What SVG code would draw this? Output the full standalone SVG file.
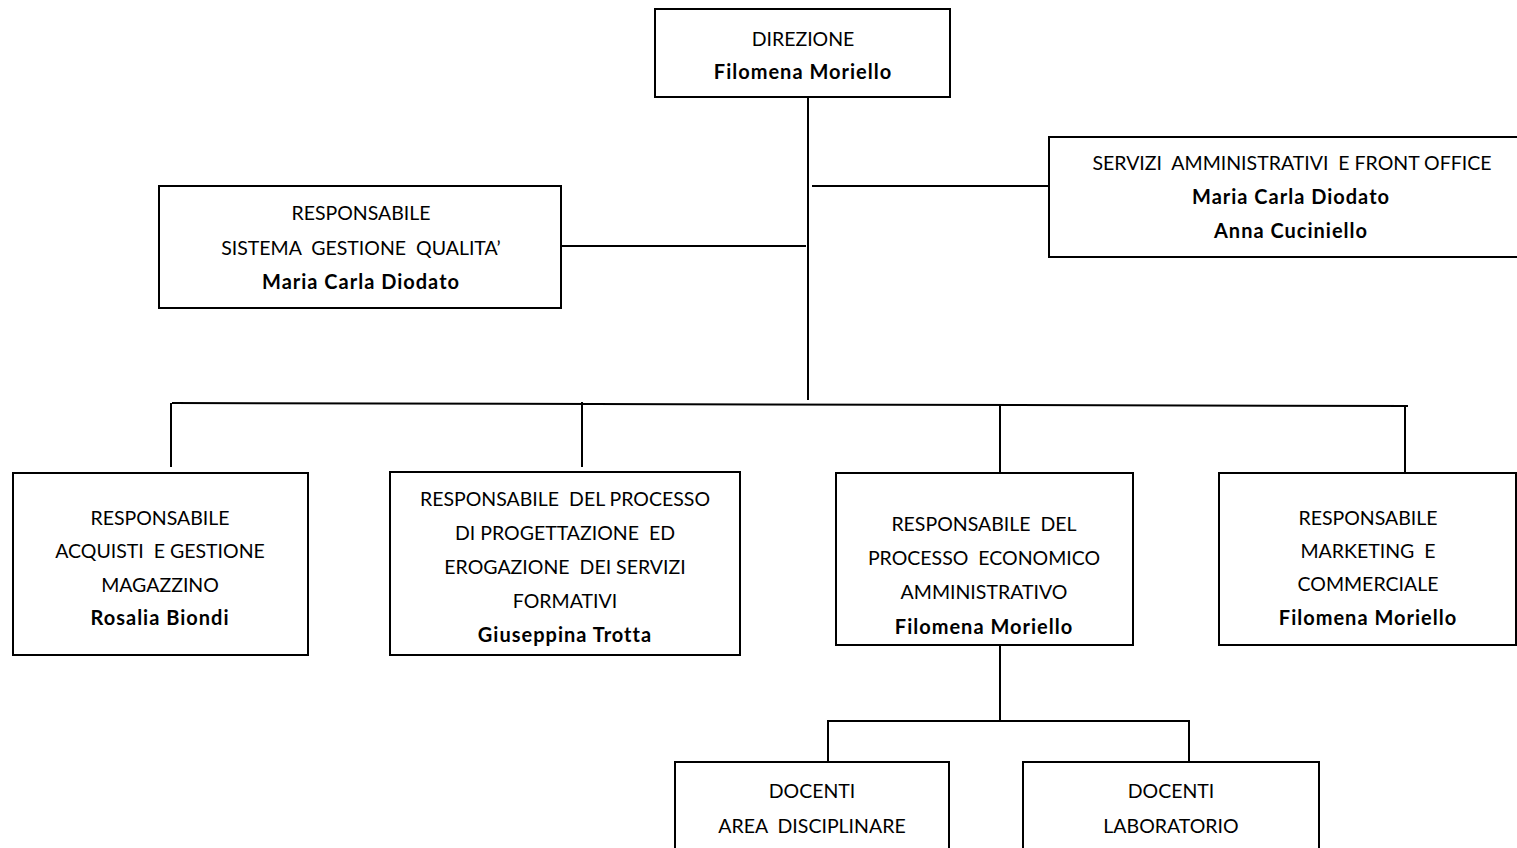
<svg xmlns="http://www.w3.org/2000/svg" width="1517" height="848" viewBox="0 0 1517 848">
<style>
.box{fill:#fff;stroke:#000;stroke-width:2}
.ln{stroke:#000;stroke-width:2;fill:none}
text{font-family:Lato,"Liberation Sans",Arial,sans-serif;font-size:19.5px;text-anchor:middle;fill:#000;white-space:pre}
.b{font-weight:bold;font-size:20px;letter-spacing:1px}
</style>
<rect width="1517" height="848" fill="#fff"/>
<g id="connectors">
<line class="ln" x1="808" y1="97" x2="808" y2="400"/>
<line class="ln" x1="812" y1="186" x2="1049" y2="186"/>
<line class="ln" x1="561" y1="246" x2="806" y2="246"/>
<line class="ln" x1="172" y1="403" x2="1408" y2="406"/>
<line class="ln" x1="171" y1="403" x2="171" y2="467"/>
<line class="ln" x1="582" y1="402" x2="582" y2="467"/>
<line class="ln" x1="1000" y1="405" x2="1000" y2="473"/>
<line class="ln" x1="1405" y1="406" x2="1405" y2="473"/>
<line class="ln" x1="1000" y1="645" x2="1000" y2="721"/>
<polyline class="ln" points="828,762 828,721 1189,721 1189,762"/>
</g>
<g id="direzione">
<rect class="box" x="655" y="9" width="295" height="88"/>
<text x="803" y="46">DIREZIONE</text>
<text class="b" x="803" y="79">Filomena Moriello</text>
</g>
<g id="servizi">
<rect class="box" x="1049" y="137" width="480" height="120"/>
<text x="1292" y="170">SERVIZI  AMMINISTRATIVI  E FRONT OFFICE</text>
<text class="b" x="1291" y="204">Maria Carla Diodato</text>
<text class="b" x="1291" y="238">Anna Cuciniello</text>
</g>
<g id="qualita">
<rect class="box" x="159" y="186" width="402" height="122"/>
<text x="361" y="220">RESPONSABILE</text>
<text x="361" y="255">SISTEMA  GESTIONE  QUALITA’</text>
<text class="b" x="361" y="289">Maria Carla Diodato</text>
</g>
<g id="acquisti">
<rect class="box" x="13" y="473" width="295" height="182"/>
<text x="160" y="525">RESPONSABILE</text>
<text x="160" y="558">ACQUISTI  E GESTIONE</text>
<text x="160" y="592">MAGAZZINO</text>
<text class="b" x="160" y="625">Rosalia Biondi</text>
</g>
<g id="progettazione">
<rect class="box" x="390" y="472" width="350" height="183"/>
<text x="565" y="506">RESPONSABILE  DEL PROCESSO</text>
<text x="565" y="540">DI PROGETTAZIONE  ED</text>
<text x="565" y="574">EROGAZIONE  DEI SERVIZI</text>
<text x="565" y="608">FORMATIVI</text>
<text class="b" x="565" y="642">Giuseppina Trotta</text>
</g>
<g id="economico">
<rect class="box" x="836" y="473" width="297" height="172"/>
<text x="984" y="531">RESPONSABILE  DEL</text>
<text x="984" y="565">PROCESSO  ECONOMICO</text>
<text x="984" y="599">AMMINISTRATIVO</text>
<text class="b" x="984" y="634">Filomena Moriello</text>
</g>
<g id="marketing">
<rect class="box" x="1219" y="473" width="297" height="172"/>
<text x="1368" y="525">RESPONSABILE</text>
<text x="1368" y="558">MARKETING  E</text>
<text x="1368" y="591">COMMERCIALE</text>
<text class="b" x="1368" y="625">Filomena Moriello</text>
</g>
<g id="docenti-area">
<rect class="box" x="675" y="762" width="274" height="100"/>
<text x="812" y="798">DOCENTI</text>
<text x="812" y="833">AREA  DISCIPLINARE</text>
</g>
<g id="docenti-lab">
<rect class="box" x="1023" y="762" width="296" height="100"/>
<text x="1171" y="798">DOCENTI</text>
<text x="1171" y="833">LABORATORIO</text>
</g>
</svg>
